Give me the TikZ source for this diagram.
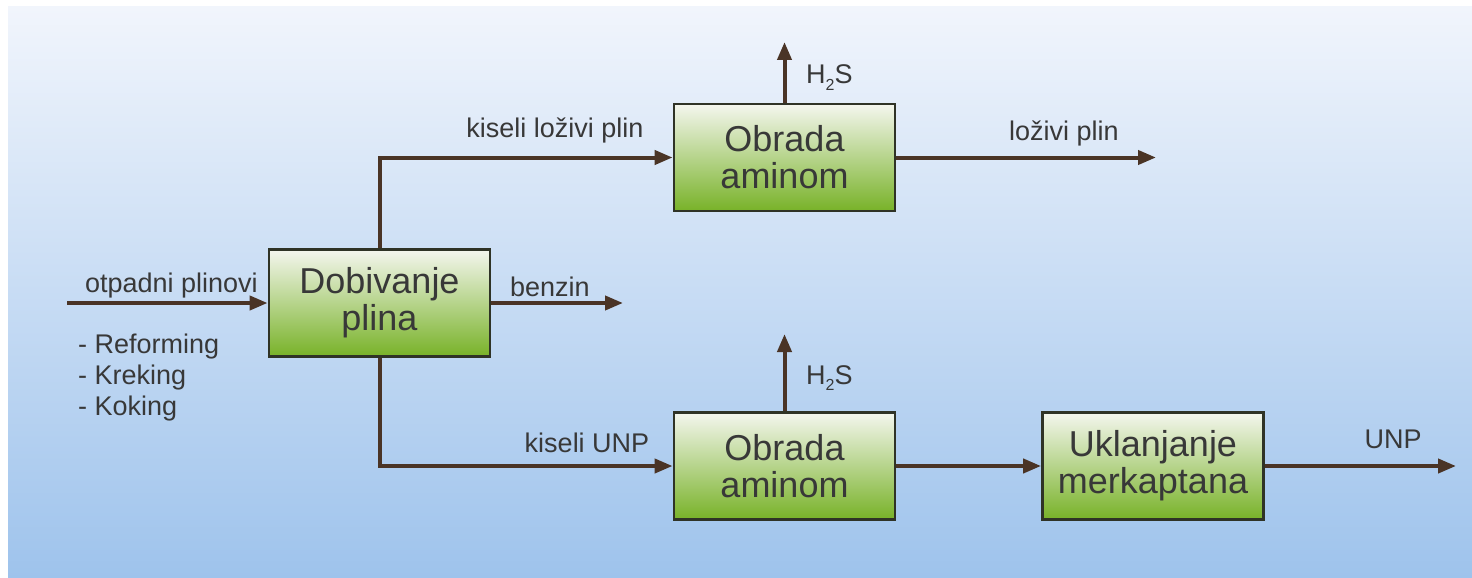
\documentclass[tikz,border=0pt]{standalone}
\usepackage{fontspec}
\setmainfont{Liberation Sans}
\usetikzlibrary{arrows.meta}
\definecolor{linec}{HTML}{4A3426}
\definecolor{txt}{HTML}{383838}
\definecolor{bgtop}{HTML}{F1F5FC}
\definecolor{bgmid}{HTML}{C8DBF5}
\definecolor{bgbot}{HTML}{9EC3EC}
\definecolor{boxtop}{HTML}{F4F6EE}
\definecolor{boxmid}{HTML}{C2DE8E}
\definecolor{boxbot}{HTML}{78B228}
\definecolor{boxdraw}{HTML}{2F3326}
\begin{document}
\begin{tikzpicture}[x=1pt,y=-1pt,
  proc/.style={draw=boxdraw, line width=2.8pt, top color=boxtop, middle color=boxmid, bottom color=boxbot,
    minimum width=221pt, minimum height=107pt, inner sep=0pt, align=center,
    font=\fontsize{36}{37}\selectfont, text=txt},
  lbl/.style={font=\fontsize{27}{31}\selectfont, text=txt, inner sep=0pt},
  flow/.style={draw=linec, line width=4pt, -{Triangle[length=18pt,width=14pt]}},
  ]
\fill[white] (0,0) rectangle (1472,578);
\shade[top color=bgtop, middle color=bgmid, bottom color=bgbot] (8,7) rectangle (1472,578);

\node[proc] (dob) at (379.5,303) {Dobivanje\\plina};
\node[proc] (oa1) at (784.5,157.5) {Obrada\\aminom};
\node[proc] (oa2) at (784.5,466) {Obrada\\aminom};
\node[proc] (ukl) at (1153,466) {Uklanjanje\\merkaptana};

\coordinate (in) at (67,303);
\coordinate (benz) at (623,303);
\coordinate (lp) at (1156,157.5);
\coordinate (h1) at (784.5,42);
\coordinate (h2) at (784.5,334);
\coordinate (unp) at (1456,466);

\draw[flow] (in) -- (dob.west);
\draw[flow] (dob.east) -- (benz);
\draw[flow] (dob.north) |- (oa1.west);
\draw[flow] (dob.south) |- (oa2.west);
\draw[flow] (oa1.north) -- (h1);
\draw[flow] (oa1.east) -- (lp);
\draw[flow] (oa2.north) -- (h2);
\draw[flow] (oa2.east) -- (ukl.west);
\draw[flow] (ukl.east) -- (unp);

\node[lbl, anchor=base east] (l1) at (258,292) {otpadni plinovi};
\node[lbl, anchor=base west] (r1) at (78,353) {- Reforming};
\node[lbl, anchor=base west] (r2) at (78,384) {- Kreking};
\node[lbl, anchor=base west] (r3) at (78,415) {- Koking};
\node[lbl, anchor=base west] (bl) at (510,296) {benzin};
\node[lbl, anchor=base] (kl) at (555,137) {kiseli loživi plin};
\node[lbl, anchor=base] (ll) at (1064,140) {loživi plin};
\node[lbl, anchor=base] (ku) at (587,452) {kiseli UNP};
\node[lbl, anchor=base] (ul) at (1393,448) {UNP};
\node[lbl, anchor=base west] (hs1) at (806,84) {H\raisebox{-6pt}{\fontsize{16}{16}\selectfont 2}S};
\node[lbl, anchor=base west] (hs2) at (806,384) {H\raisebox{-6pt}{\fontsize{16}{16}\selectfont 2}S};
\end{tikzpicture}
\end{document}
